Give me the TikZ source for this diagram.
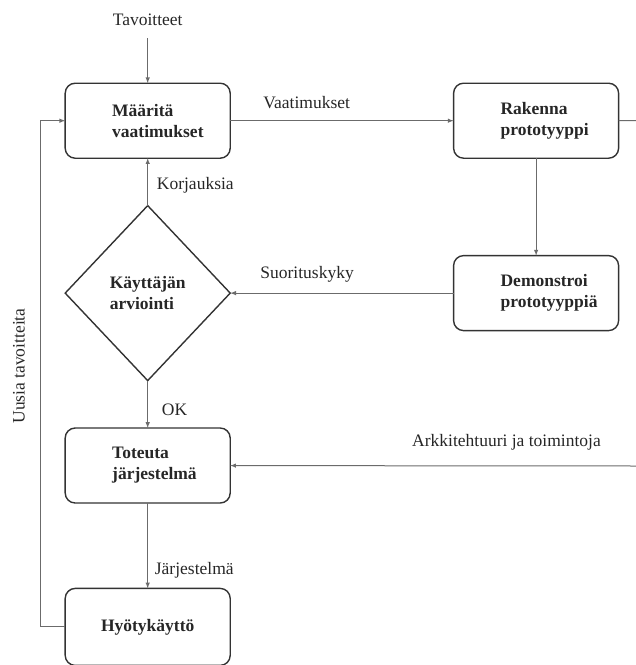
\documentclass[tikz,border=0pt]{standalone}
\usepackage{fontspec}
\setmainfont{Liberation Serif}
\usetikzlibrary{matrix,shapes.geometric}

\definecolor{linegray}{gray}{0.42}
\definecolor{boxgray}{gray}{0.2}
\definecolor{textgray}{gray}{0.15}

\tikzset{
    stagebox/.style={draw=boxgray, line width=1.4bp, rounded corners=10bp,
        minimum width=165bp, minimum height=75bp, align=left,
        font=\bfseries\fontsize{17.5bp}{21bp}\selectfont},
    twoline/.style={text width=71bp, inner xsep=0pt},
    decision/.style={draw=boxgray, line width=1.4bp, diamond, inner sep=0pt,
        minimum width=165bp, minimum height=175bp, align=left,
        font=\bfseries\fontsize{17.5bp}{21bp}\selectfont},
    flowlabel/.style={font=\fontsize{17.5bp}{21bp}\selectfont, inner sep=0pt},
    flow/.style={draw=linegray, line width=1bp},
}

\begin{document}
\begin{tikzpicture}[x=1bp, y=1bp, text=textgray]

    \useasboundingbox (0,0) rectangle (636,-665);

    \matrix[column sep=222bp, row sep=46bp, inner sep=0pt, outer sep=0pt,
        nodes={anchor=center}, anchor=north west] (mat) at (64.5,-82.5)
    {
        \node[stagebox, twoline] (define) {Määritä\\vaatimukset}; &
        \node[stagebox, twoline] (build) {Rakenna\\prototyyppi}; \\
        \node[decision] (review) {Käyttäjän\\arviointi}; &
        \node[stagebox, twoline] (demo) {Demonstroi\\prototyyppiä}; \\
        \node[stagebox, twoline] (impl) {Toteuta\\järjestelmä}; & \\[38bp]
        \node[stagebox, minimum height=77bp] (use) {Hyötykäyttö}; & \\
    };

    % free ends at the right border
    \coordinate (outR) at (636,-120.5);
    \coordinate (inT) at (636,-466);

    \draw[flow,->,>=latex] (define) -- (build);
    \draw[flow] (build) -- (outR);
    \draw[flow,->,>=latex] (build) -- (demo);
    \draw[flow,->,>=latex] (demo) -- (review);
    \draw[flow,->,>=latex] (review) -- (define);
    \draw[flow,->,>=latex] (review) -- (impl);
    \draw[flow,->,>=latex] (inT) -- (impl);
    \draw[flow,->,>=latex] (impl) -- (use);
    \draw[flow,->,>=latex] (use.west) -- ++(-25,0) |- (define.west);

    \node[flowlabel] (goal) at ([yshift=63bp]define.north)
    {Tavoitteet};
    \draw[flow,->,>=latex] ([yshift=-12bp]goal.south) -- (define);

    \node[flowlabel, anchor=base west] (req) at ([xshift=33bp, yshift=12.5bp]define.east)
    {Vaatimukset};

    \node[flowlabel, anchor=base west] (perf) at ([xshift=30bp, yshift=14.5bp]review.east)
    {Suorituskyky};

    \node[flowlabel, anchor=base west] (fix) at ([xshift=9bp, yshift=16bp]review.north)
    {Korjauksia};

    \node[flowlabel, anchor=base west] (ok) at ([xshift=14bp, yshift=13bp]impl.north)
    {OK};

    \node[flowlabel, anchor=base east] (arch) at ([xshift=-35bp, yshift=19.5bp]inT)
    {Arkkitehtuuri ja toimintoja};

    \node[flowlabel, anchor=base west] (sys) at ([xshift=7bp, yshift=14bp]use.north)
    {Järjestelmä};

    \node[flowlabel, rotate=90] (newgoals) at (19,-366)
    {Uusia tavoitteita};

\end{tikzpicture}
\end{document}
